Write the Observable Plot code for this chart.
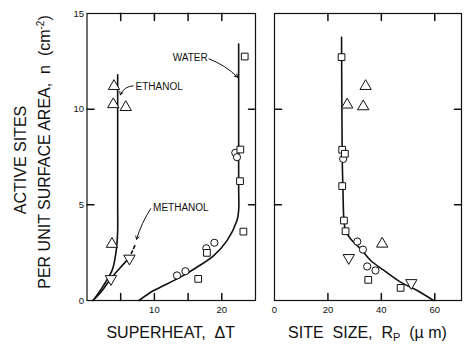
<!DOCTYPE html>
<html><head><meta charset="utf-8">
<script src="https://cdn.jsdelivr.net/npm/d3@7"></script>
<script src="https://cdn.jsdelivr.net/npm/@observablehq/plot@0.6"></script>
<style>
html,body{margin:0;padding:0;background:#fff;}
#wrap{position:relative;width:476px;height:351px;overflow:hidden;background:#fff;}
#wrap svg{position:absolute;top:0;}
</style></head><body><div id="wrap"></div>
<script>
// ---- axes ----
const yDomain = [0, 15];
const yTicks = [0, 5, 10, 15];
const yInnerTicks = [5, 10];
const leftXDomain = [0, 25];
const leftXTicks = [5, 10, 15, 20];
const leftXLabels = [10, 20];
const rightXDomain = [0, 70];
const rightXTicks = [20, 40, 60];
const rightXLabels = [0, 20, 40, 60];

// ---- left panel: superheat ΔT vs active sites n ----
const ethanolTriX = [4.0, 3.9, 5.75, 3.7];
const ethanolTriY = [11.2, 10.25, 10.1, 2.95];
const methanolTriX = [3.55, 6.3];
const methanolTriY = [1.13, 2.2];
const waterCircX = [13.35, 14.6, 17.7, 18.9, 22.0, 22.25];
const waterCircY = [1.31, 1.53, 2.73, 3.02, 7.72, 7.49];
const waterSqX = [16.5, 17.8, 22.75, 22.7, 23.2, 23.4];
const waterSqY = [1.13, 2.49, 7.89, 6.24, 3.6, 12.75];

const ethanolCurveX = [0.9, 2.3, 3.75, 4.25, 4.45, 4.55, 4.55, 4.55];
const ethanolCurveY = [0, 0.7, 1.6, 2.4, 3.0, 3.6, 5.0, 11.8];
const methanolCurveX = [0.9, 2.2, 3.5, 4.9, 6.2];
const methanolCurveY = [0, 0.5, 1.13, 1.7, 2.2];
const methanolDashX = [6.2, 6.7, 7.1];
const methanolDashY = [2.2, 2.55, 2.87];
const waterCurveX = [7.7, 9.9, 11.4, 13.85, 16.3, 18.8, 20.8, 22.25, 22.5, 22.5, 22.5];
const waterCurveY = [0, 0.52, 0.78, 1.22, 1.74, 2.35, 3.14, 4.18, 4.7, 6.0, 13.4];

// curve labels with leader arrows
const labelText = ["WATER", "ETHANOL", "METHANOL"];
const labelX = [17.9, 7.2, 9.8];
const labelY = [12.7, 11.19, 4.85];
const labelAnchor = ["end", "start", "start"];
const leaderX1 = [18.1, 6.85, 9.45];
const leaderY1 = [12.63, 11.22, 4.8];
const leaderX2 = [22.35, 4.95, 7.35];
const leaderY2 = [11.67, 10.75, 3.2];
const leaderBend = [12, -35, -8];

// ---- right panel: site size Rp vs active sites n ----
const rSqX = [25.1, 25.35, 26.35, 25.35, 26.0, 26.6, 35.1, 47.2];
const rSqY = [12.72, 7.88, 7.67, 5.98, 4.18, 3.62, 1.08, 0.66];
const rCircX = [25.7, 31, 33.1, 34.7, 37.8];
const rCircY = [7.4, 3.08, 2.66, 1.78, 1.57];
const rTriX = [34.1, 27.2, 33.2, 40.3];
const rTriY = [11.2, 10.23, 10.14, 2.96];
const rTriDownX = [27.8, 51.2];
const rTriDownY = [2.23, 0.92];
const rCurveX = [25.1, 25.35, 25.6, 26.0, 26.6, 28.5, 32.2, 36, 41, 47.2, 53.4, 59.5];
const rCurveY = [13.76, 7.49, 5.92, 4.18, 3.66, 3.22, 2.7, 2.09, 1.57, 0.96, 0.52, 0];

const INK = "#111";
const FONT = "'Liberation Sans', Arial, Helvetica, sans-serif";
const TICK = 7;
const H = 351, MT = 13, MB = 51;
const pts = (X, Y) => X.map((x, i) => ({x, y: Y[i]}));
const lineOpts = {x: "x", y: "y", stroke: INK, strokeWidth: 1.6, curve: "catmull-rom"};
const dotOpts = (symbol, extra = {}) => ({x: "x", y: "y", symbol, r: 3.8, stroke: INK, strokeWidth: 1, fill: "white", ...extra});

const labelMarks = labelText.flatMap((t, i) => [
  Plot.arrow([t], {
    x1: () => leaderX1[i], y1: () => leaderY1[i],
    x2: () => leaderX2[i], y2: () => leaderY2[i],
    bend: leaderBend[i], stroke: INK, strokeWidth: 1, headLength: 5
  }),
  Plot.text([t], {
    x: () => labelX[i], y: () => labelY[i], text: d => d,
    textAnchor: labelAnchor[i], fontSize: 10, fill: INK
  })
]);

// inward tick marks: short vectors anchored at the frame edges
function tickMarks(xTicks) {
  const common = {length: TICK, anchor: "start", stroke: INK, strokeWidth: 1.5, shape: "spike", r: 0.01};
  return [
    Plot.vector(xTicks, {...common, x: d => d, frameAnchor: "bottom", rotate: 0}),
    Plot.vector(xTicks, {...common, x: d => d, frameAnchor: "top", rotate: 180}),
    Plot.vector(yInnerTicks, {...common, y: d => d, frameAnchor: "left", rotate: 90}),
    Plot.vector(yInnerTicks, {...common, y: d => d, frameAnchor: "right", rotate: -90})
  ];
}

const LW = 262, LML = 86.5, LMR = 7;
const left = Plot.plot({
  width: LW, height: H,
  marginLeft: LML, marginRight: LMR, marginTop: MT, marginBottom: MB,
  style: {fontFamily: FONT, fontSize: "9.5px", color: INK, background: "transparent"},
  x: {domain: leftXDomain, label: null},
  y: {domain: yDomain, label: null},
  marks: [
    Plot.frame({stroke: INK, strokeWidth: 1.2}),
    ...tickMarks(leftXTicks),
    Plot.axisX({anchor: "bottom", ticks: leftXLabels, tickSize: 0, tickPadding: 6, fill: INK, label: null}),
    Plot.axisY({anchor: "left", ticks: yTicks, tickSize: 0, tickPadding: 3, fill: INK, label: null}),
    Plot.line(pts(ethanolCurveX, ethanolCurveY), lineOpts),
    Plot.line(pts(methanolCurveX, methanolCurveY), lineOpts),
    Plot.line(pts(methanolDashX, methanolDashY), {...lineOpts, strokeDasharray: "3,2.5"}),
    Plot.line(pts(waterCurveX, waterCurveY), lineOpts),
    ...labelMarks,
    Plot.dot(pts(waterCircX, waterCircY), dotOpts("circle", {r: 3.6})),
    Plot.dot(pts(waterSqX, waterSqY), dotOpts("square")),
    Plot.dot(pts(ethanolTriX, ethanolTriY), dotOpts("triangle", {r: 4.2})),
    Plot.dot(pts(methanolTriX, methanolTriY), dotOpts("triangle", {r: 4.2, rotate: 180}))
  ]
});

const RW = 214, RML = 12, RMR = 15;
const right = Plot.plot({
  width: RW, height: H,
  marginLeft: RML, marginRight: RMR, marginTop: MT, marginBottom: MB,
  style: {fontFamily: FONT, fontSize: "9.5px", color: INK, background: "transparent"},
  x: {domain: rightXDomain, label: null},
  y: {domain: yDomain, label: null, axis: null},
  marks: [
    Plot.frame({stroke: INK, strokeWidth: 1.2}),
    ...tickMarks(rightXTicks),
    Plot.axisX({anchor: "bottom", ticks: rightXLabels, tickSize: 0, tickPadding: 6, fill: INK, label: null}),
    Plot.line(pts(rCurveX, rCurveY), lineOpts),
    Plot.dot(pts(rCircX, rCircY), dotOpts("circle", {r: 3.6})),
    Plot.dot(pts(rSqX, rSqY), dotOpts("square")),
    Plot.dot(pts(rTriX, rTriY), dotOpts("triangle", {r: 4.2})),
    Plot.dot(pts(rTriDownX, rTriDownY), dotOpts("triangle", {r: 4.2, rotate: 180}))
  ]
});

const wrap = document.getElementById("wrap");
left.style.left = "0px";
right.style.left = LW + "px";
wrap.appendChild(left);
wrap.appendChild(right);

// axis titles
const L = d3.select(left), R = d3.select(right);
L.append("text").attr("x", LML + (LW - LML - LMR) / 2).attr("y", 338).attr("text-anchor", "middle")
  .style("font-size", "16px").attr("fill", INK).text("SUPERHEAT,  \u0394T");
L.append("text").attr("transform", "translate(25.5,160) rotate(-90)").attr("text-anchor", "middle")
  .style("font-size", "16px").attr("fill", INK).text("ACTIVE SITES");
const yt = L.append("text").attr("transform", "translate(49.5,152) rotate(-90)").attr("text-anchor", "middle")
  .style("font-size", "16px").attr("fill", INK);
yt.append("tspan").text("PER UNIT SURFACE AREA,  n  (cm");
yt.append("tspan").attr("dy", -6).style("font-size", "10px").text("-2");
yt.append("tspan").attr("dy", 6).text(")");
const rt = R.append("text").attr("x", RML + (RW - RML - RMR) / 2).attr("y", 338).attr("text-anchor", "middle")
  .style("font-size", "16px").attr("fill", INK);
rt.append("tspan").text("SITE  SIZE,  R");
rt.append("tspan").attr("dy", 3).style("font-size", "11px").text("P");
rt.append("tspan").attr("dy", -3).text("  (\u00b5 m)");
</script></body></html>
